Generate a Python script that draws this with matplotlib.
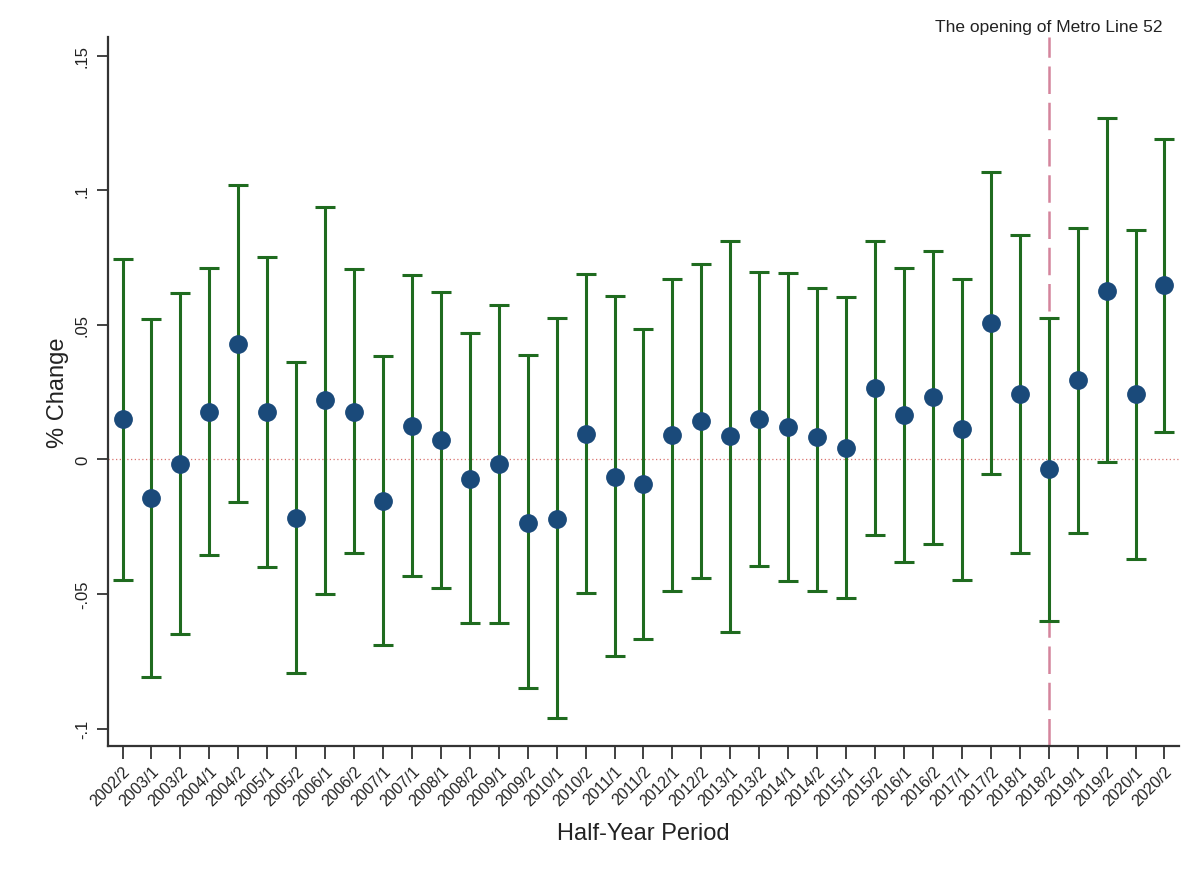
import numpy as np
import matplotlib
matplotlib.use("Agg")
import matplotlib.pyplot as plt

plt.rcParams['font.family'] = ['Liberation Sans', 'DejaVu Sans']

periods = ['2002/2', '2003/1', '2003/2', '2004/1', '2004/2', '2005/1', '2005/2',
           '2006/1', '2006/2', '2007/1', '2007/1', '2008/1', '2008/2', '2009/1',
           '2009/2', '2010/1', '2010/2', '2011/1', '2011/2', '2012/1', '2012/2',
           '2013/1', '2013/2', '2014/1', '2014/2', '2015/1', '2015/2', '2016/1',
           '2016/2', '2017/1', '2017/2', '2018/1', '2018/2', '2019/1', '2019/2',
           '2020/1', '2020/2']

coef = [0.0151, -0.0144, -0.0016, 0.0176, 0.0430, 0.0176, -0.0217, 0.0219,
        0.0178, -0.0154, 0.0126, 0.0074, -0.0072, -0.0018, -0.0235, -0.0220,
        0.0096, -0.0066, -0.0093, 0.0092, 0.0141, 0.0087, 0.0151, 0.0120,
        0.0083, 0.0042, 0.0267, 0.0164, 0.0232, 0.0112, 0.0507, 0.0242,
        -0.0037, 0.0296, 0.0626, 0.0242, 0.0647]

ci_low = [-0.0446, -0.0807, -0.0648, -0.0356, -0.0159, -0.0398, -0.0793, -0.0498,
          -0.0349, -0.0691, -0.0434, -0.0477, -0.0608, -0.0607, -0.0850, -0.0961,
          -0.0496, -0.0730, -0.0668, -0.0487, -0.0442, -0.0642, -0.0396, -0.0450,
          -0.0487, -0.0514, -0.0282, -0.0381, -0.0313, -0.0447, -0.0053, -0.0349,
          -0.0601, -0.0274, -0.0011, -0.0370, 0.0102]

ci_high = [0.0746, 0.0523, 0.0619, 0.0713, 0.1019, 0.0751, 0.0362, 0.0936,
           0.0709, 0.0384, 0.0684, 0.0622, 0.0470, 0.0574, 0.0388, 0.0526,
           0.0690, 0.0607, 0.0486, 0.0672, 0.0725, 0.0813, 0.0697, 0.0693,
           0.0637, 0.0602, 0.0812, 0.0712, 0.0775, 0.0669, 0.1066, 0.0832,
           0.0527, 0.0861, 0.1267, 0.0853, 0.1191]

event_period = 32  # 2018/2
event_label = 'The opening of Metro Line 52'

yticks = [-0.1, -0.05, 0, 0.05, 0.1, 0.15]
ytick_labels = ['-.1', '-.05', '0', '.05', '.1', '.15']

x = np.arange(len(periods))
coef = np.array(coef)
yerr = np.vstack([coef - np.array(ci_low), np.array(ci_high) - coef])

fig = plt.figure(figsize=(12.03, 8.79), dpi=100)
ax = fig.add_axes([0.0898, 0.150, 0.8902, 0.807])

# zero reference line and event marker
ax.axhline(0, color='#d9736f', linestyle=(0, (1, 2)), linewidth=0.9, zorder=1)
ax.axvline(event_period, color='#d4849c', linestyle=(0, (11, 3.5)),
           linewidth=1.8, zorder=1)

ax.errorbar(x, coef, yerr=yerr, fmt='none', ecolor='#1f6b1f', elinewidth=2.2,
            capsize=7.5, capthick=2.2, zorder=2)
ax.plot(x, coef, 'o', color='#1a4a7a', markersize=12.5, zorder=3)

ax.text(event_period, 0.1593, event_label, ha='center', va='baseline',
        fontsize=12.5, color='#222222')

ax.set_xlim(-0.5, 36.5)
ax.set_ylim(-0.1065, 0.157)
ax.set_xticks(x)
ax.set_xticklabels(periods, rotation=45, ha='right', rotation_mode='anchor',
                   fontsize=11.5, color='#222222')
ax.set_yticks(yticks)
ax.set_yticklabels(ytick_labels, rotation=90, va='center', fontsize=12,
                   color='#222222')

ax.spines['top'].set_visible(False)
ax.spines['right'].set_visible(False)
for s in ['left', 'bottom']:
    ax.spines[s].set_color('#333333')
    ax.spines[s].set_linewidth(1.6)
ax.tick_params(axis='x', length=9, width=1.3, color='#333333', pad=3)
ax.tick_params(axis='y', length=8, width=1.3, color='#333333', pad=5)

ax.set_xlabel('Half-Year Period', fontsize=17, color='#222222', labelpad=10)
ax.set_ylabel('% Change', fontsize=17, color='#222222', labelpad=4)

fig.savefig('out.png', dpi=100, facecolor='white')
